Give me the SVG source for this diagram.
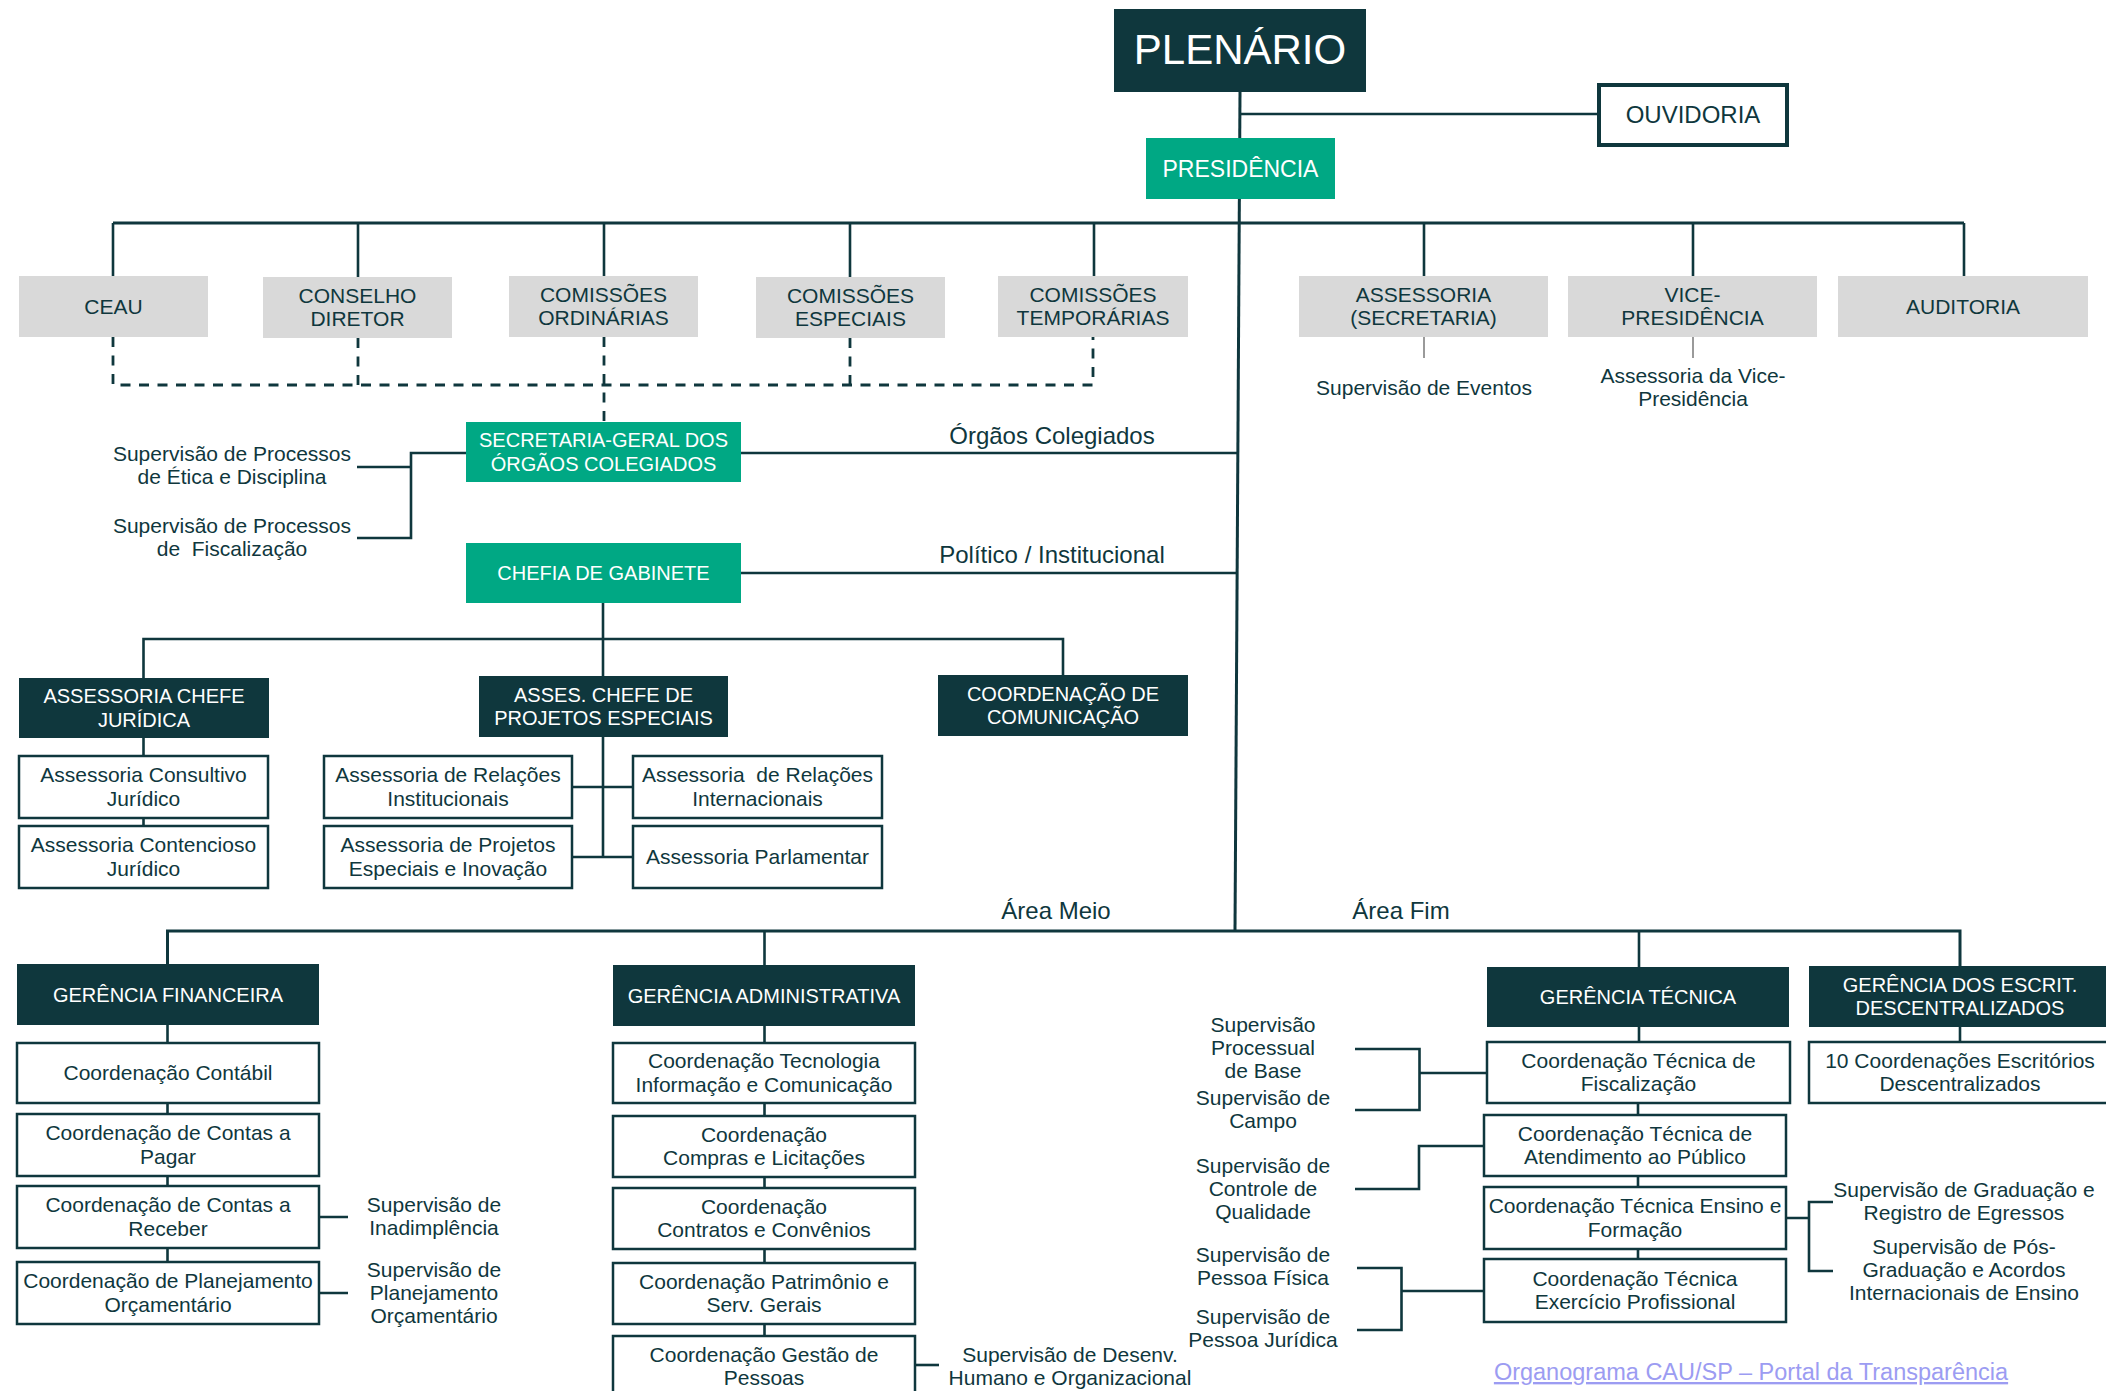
<svg xmlns="http://www.w3.org/2000/svg" width="2106" height="1391" viewBox="0 0 2106 1391">
<style>
.bg{fill:#ffffff}
.dark{fill:#0f373d}
.green{fill:#00a884}
.gray{fill:#d9d9d9}
.wbox{fill:#ffffff;stroke:#0f373d;stroke-width:2.5}
.obox{fill:#ffffff;stroke:#0f373d;stroke-width:4}
.t{font-family:"Liberation Sans",Arial,sans-serif;font-size:21px;fill:#0f373d;text-anchor:middle}
.h{font-size:20px}
.w{fill:#ffffff}
.lbl{font-size:24px}
.c{fill:none;stroke:#0f373d;stroke-width:2.6}
.cm{stroke-width:3}
.d{stroke-dasharray:10 8.5;stroke-width:2.8}
.g{stroke:#9a9a9a;stroke-width:2}
.link{font-size:23.5px;fill:#9c9cf2;text-decoration:underline}
</style>
<rect class="bg" x="0" y="0" width="2106" height="1391"/>

<g id="connectors">
  <path class="c cm" d="M1240 92 L1235 931"/>
  <path class="c" d="M1240 114 H1597"/>
  <path class="c cm" d="M113 223 H1964"/>
  <path class="c" d="M113 223 V276 M358 223 V277 M604 223 V276 M850 223 V277 M1094 223 V276 M1424 223 V276 M1693 223 V276 M1964 223 V276"/>
  <path class="c d" d="M113 337 V385 H1093 V337 M358 338 V385 M604 337 V422 M850 338 V385"/>
  <path class="c g" d="M1424 337 V358 M1693 337 V358"/>
  <path class="c" d="M466 453 H411 V538 H357 M411 467 H357"/>
  <path class="c" d="M741 453 H1238"/>
  <path class="c" d="M741 573 H1237"/>
  <path class="c" d="M603 603 V676"/>
  <path class="c" d="M143.5 678 V639 H1063 V675"/>
  <path class="c" d="M143.5 738 V826"/>
  <path class="c" d="M603 737 V857 M572 787 H633 M572 857 H633"/>
  <path class="c cm" d="M167.5 964 V931 H1960 V966"/>
  <path class="c" d="M764.5 931 V965 M1639 931 V967"/>
  <path class="c" d="M167.5 1025 V1262"/>
  <path class="c" d="M319 1217 H348 M319 1293 H348"/>
  <path class="c" d="M764.5 1026 V1336"/>
  <path class="c" d="M915 1365 H939"/>
  <path class="c" d="M1639 1027 V1042 M1638 1103 V1259"/>
  <path class="c" d="M1960 1027 V1042"/>
  <path class="c" d="M1355 1049 H1419.5 V1110 H1355 M1419.5 1073 H1487"/>
  <path class="c" d="M1355 1189 H1419 V1146 H1484"/>
  <path class="c" d="M1357 1268 H1401.5 V1330 H1357 M1401.5 1291 H1484"/>
  <path class="c" d="M1786 1218 H1809 M1833 1202 H1809 V1271 H1833"/>
</g>

<g id="n-plenario">
  <rect class="dark" x="1114" y="9" width="252" height="83"/>
  <text class="t w" x="1240" y="64" style="font-size:42px">PLENÁRIO</text>
</g>
<g id="n-ouvidoria">
  <rect class="obox" x="1599" y="85" width="188" height="60"/>
  <text class="t lbl" x="1693" y="123">OUVIDORIA</text>
</g>
<g id="n-presidencia">
  <rect class="green" x="1146" y="138" width="189" height="61"/>
  <text class="t w" x="1240.5" y="177" style="font-size:23px">PRESIDÊNCIA</text>
</g>

<g id="n-ceau">
  <rect class="gray" x="19" y="276" width="189" height="61"/>
  <text class="t" x="113.5" y="313.5">CEAU</text>
</g>
<g id="n-conselho">
  <rect class="gray" x="263" y="277" width="189" height="61"/>
  <text class="t" x="357.5" y="302.5">CONSELHO</text>
  <text class="t" x="357.5" y="326">DIRETOR</text>
</g>
<g id="n-com-ordinarias">
  <rect class="gray" x="509" y="276" width="189" height="61"/>
  <text class="t" x="603.5" y="301.75">COMISSÕES</text>
  <text class="t" x="603.5" y="325.25">ORDINÁRIAS</text>
</g>
<g id="n-com-especiais">
  <rect class="gray" x="756" y="277" width="189" height="61"/>
  <text class="t" x="850.5" y="302.5">COMISSÕES</text>
  <text class="t" x="850.5" y="326">ESPECIAIS</text>
</g>
<g id="n-com-temporarias">
  <rect class="gray" x="998" y="276" width="190" height="61"/>
  <text class="t" x="1093" y="301.75">COMISSÕES</text>
  <text class="t" x="1093" y="325.25">TEMPORÁRIAS</text>
</g>
<g id="n-assessoria-secretaria">
  <rect class="gray" x="1299" y="276" width="249" height="61"/>
  <text class="t" x="1423.5" y="301.75">ASSESSORIA</text>
  <text class="t" x="1423.5" y="325.25">(SECRETARIA)</text>
  <text class="t" x="1424" y="395">Supervisão de Eventos</text>
</g>
<g id="n-vice">
  <rect class="gray" x="1568" y="276" width="249" height="61"/>
  <text class="t" x="1692.5" y="301.75">VICE-</text>
  <text class="t" x="1692.5" y="325.25">PRESIDÊNCIA</text>
  <text class="t" x="1693" y="383">Assessoria da Vice-</text>
  <text class="t" x="1693" y="406">Presidência</text>
</g>
<g id="n-auditoria">
  <rect class="gray" x="1838" y="276" width="250" height="61"/>
  <text class="t" x="1963" y="313.5">AUDITORIA</text>
</g>

<g id="n-secretaria-geral">
  <rect class="green" x="466" y="422" width="275" height="60"/>
  <text class="t h w" x="603.5" y="447.25">SECRETARIA-GERAL DOS</text>
  <text class="t h w" x="603.5" y="470.75">ÓRGÃOS COLEGIADOS</text>
</g>
<g id="n-sup-etica">
  <text class="t" x="232" y="461">Supervisão de Processos</text>
  <text class="t" x="232" y="484">de Ética e Disciplina</text>
</g>
<g id="n-sup-fiscalizacao">
  <text class="t" x="232" y="533">Supervisão de Processos</text>
  <text class="t" x="232" y="556" xml:space="preserve">de  Fiscalização</text>
</g>
<g id="labels">
  <text class="t lbl" x="1052" y="444">Órgãos Colegiados</text>
  <text class="t lbl" x="1052" y="563">Político / Institucional</text>
  <text class="t lbl" x="1056" y="919">Área Meio</text>
  <text class="t lbl" x="1401" y="919">Área Fim</text>
</g>

<g id="n-chefia">
  <rect class="green" x="466" y="543" width="275" height="60"/>
  <text class="t h w" x="603.5" y="580">CHEFIA DE GABINETE</text>
</g>
<g id="n-juridica">
  <rect class="dark" x="19" y="678" width="250" height="60"/>
  <text class="t h w" x="144" y="703.25">ASSESSORIA CHEFE</text>
  <text class="t h w" x="144" y="726.75">JURÍDICA</text>
</g>
<g id="n-projetos">
  <rect class="dark" x="479" y="676" width="249" height="61"/>
  <text class="t h w" x="603.5" y="701.75">ASSES. CHEFE DE</text>
  <text class="t h w" x="603.5" y="725.25">PROJETOS ESPECIAIS</text>
</g>
<g id="n-comunicacao">
  <rect class="dark" x="938" y="675" width="250" height="61"/>
  <text class="t h w" x="1063" y="700.75">COORDENAÇÃO DE</text>
  <text class="t h w" x="1063" y="724.25">COMUNICAÇÃO</text>
</g>
<g id="n-consultivo">
  <rect class="wbox" x="19" y="756" width="249" height="62"/>
  <text class="t" x="143.5" y="782.25">Assessoria Consultivo</text>
  <text class="t" x="143.5" y="805.75">Jurídico</text>
</g>
<g id="n-contencioso">
  <rect class="wbox" x="19" y="826" width="249" height="62"/>
  <text class="t" x="143.5" y="852.25">Assessoria Contencioso</text>
  <text class="t" x="143.5" y="875.75">Jurídico</text>
</g>
<g id="n-rel-institucionais">
  <rect class="wbox" x="324" y="756" width="248" height="62"/>
  <text class="t" x="448" y="782.25">Assessoria de Relações</text>
  <text class="t" x="448" y="805.75">Institucionais</text>
</g>
<g id="n-proj-especiais">
  <rect class="wbox" x="324" y="826" width="248" height="62"/>
  <text class="t" x="448" y="852.25">Assessoria de Projetos</text>
  <text class="t" x="448" y="875.75">Especiais e Inovação</text>
</g>
<g id="n-rel-internacionais">
  <rect class="wbox" x="633" y="756" width="249" height="62"/>
  <text class="t" x="757.5" y="782.25" xml:space="preserve">Assessoria  de Relações</text>
  <text class="t" x="757.5" y="805.75">Internacionais</text>
</g>
<g id="n-parlamentar">
  <rect class="wbox" x="633" y="826" width="249" height="62"/>
  <text class="t" x="757.5" y="864">Assessoria Parlamentar</text>
</g>

<g id="n-ger-financeira">
  <rect class="dark" x="17" y="964" width="302" height="61"/>
  <text class="t h w" x="168" y="1001.5">GERÊNCIA FINANCEIRA</text>
</g>
<g id="n-contabil">
  <rect class="wbox" x="17" y="1043" width="302" height="60"/>
  <text class="t" x="168" y="1080">Coordenação Contábil</text>
</g>
<g id="n-pagar">
  <rect class="wbox" x="17" y="1114" width="302" height="62"/>
  <text class="t" x="168" y="1140.25">Coordenação de Contas a</text>
  <text class="t" x="168" y="1163.75">Pagar</text>
</g>
<g id="n-receber">
  <rect class="wbox" x="17" y="1186" width="302" height="62"/>
  <text class="t" x="168" y="1212.25">Coordenação de Contas a</text>
  <text class="t" x="168" y="1235.75">Receber</text>
</g>
<g id="n-planejamento">
  <rect class="wbox" x="17" y="1262" width="302" height="62"/>
  <text class="t" x="168" y="1288.25">Coordenação de Planejamento</text>
  <text class="t" x="168" y="1311.75">Orçamentário</text>
</g>
<g id="n-sup-inadimplencia">
  <text class="t" x="434" y="1212">Supervisão de</text>
  <text class="t" x="434" y="1235">Inadimplência</text>
</g>
<g id="n-sup-planejamento">
  <text class="t" x="434" y="1277">Supervisão de</text>
  <text class="t" x="434" y="1300">Planejamento</text>
  <text class="t" x="434" y="1323">Orçamentário</text>
</g>

<g id="n-ger-administrativa">
  <rect class="dark" x="613" y="965" width="302" height="61"/>
  <text class="t h w" x="764" y="1002.5">GERÊNCIA ADMINISTRATIVA</text>
</g>
<g id="n-tecnologia">
  <rect class="wbox" x="613" y="1043" width="302" height="60"/>
  <text class="t" x="764" y="1068.25">Coordenação Tecnologia</text>
  <text class="t" x="764" y="1091.75">Informação e Comunicação</text>
</g>
<g id="n-compras">
  <rect class="wbox" x="613" y="1116" width="302" height="61"/>
  <text class="t" x="764" y="1141.75">Coordenação</text>
  <text class="t" x="764" y="1165.25">Compras e Licitações</text>
</g>
<g id="n-contratos">
  <rect class="wbox" x="613" y="1188" width="302" height="61"/>
  <text class="t" x="764" y="1213.75">Coordenação</text>
  <text class="t" x="764" y="1237.25">Contratos e Convênios</text>
</g>
<g id="n-patrimonio">
  <rect class="wbox" x="613" y="1263" width="302" height="61"/>
  <text class="t" x="764" y="1288.75">Coordenação Patrimônio e</text>
  <text class="t" x="764" y="1312.25">Serv. Gerais</text>
</g>
<g id="n-pessoas">
  <rect class="wbox" x="613" y="1336" width="302" height="70"/>
  <text class="t" x="764" y="1362">Coordenação Gestão de</text>
  <text class="t" x="764" y="1385">Pessoas</text>
</g>
<g id="n-sup-desenv">
  <text class="t" x="1070" y="1362">Supervisão de Desenv.</text>
  <text class="t" x="1070" y="1385">Humano e Organizacional</text>
</g>

<g id="n-ger-tecnica">
  <rect class="dark" x="1487" y="967" width="302" height="60"/>
  <text class="t h w" x="1638" y="1004">GERÊNCIA TÉCNICA</text>
</g>
<g id="n-ger-escritorios">
  <rect class="dark" x="1809" y="966" width="310" height="61"/>
  <text class="t h w" x="1960" y="991.75">GERÊNCIA DOS ESCRIT.</text>
  <text class="t h w" x="1960" y="1015.25">DESCENTRALIZADOS</text>
</g>
<g id="n-10-coord">
  <rect class="wbox" x="1809" y="1042" width="310" height="61"/>
  <text class="t" x="1960" y="1067.75">10 Coordenações Escritórios</text>
  <text class="t" x="1960" y="1091.25">Descentralizados</text>
</g>
<g id="n-fiscalizacao">
  <rect class="wbox" x="1487" y="1042" width="303" height="61"/>
  <text class="t" x="1638.5" y="1067.75">Coordenação Técnica de</text>
  <text class="t" x="1638.5" y="1091.25">Fiscalização</text>
</g>
<g id="n-atendimento">
  <rect class="wbox" x="1484" y="1115" width="302" height="61"/>
  <text class="t" x="1635" y="1140.75">Coordenação Técnica de</text>
  <text class="t" x="1635" y="1164.25">Atendimento ao Público</text>
</g>
<g id="n-ensino">
  <rect class="wbox" x="1484" y="1187" width="302" height="62"/>
  <text class="t" x="1635" y="1213.25">Coordenação Técnica Ensino e</text>
  <text class="t" x="1635" y="1236.75">Formação</text>
</g>
<g id="n-exercicio">
  <rect class="wbox" x="1484" y="1259" width="302" height="63"/>
  <text class="t" x="1635" y="1285.75">Coordenação Técnica</text>
  <text class="t" x="1635" y="1309.25">Exercício Profissional</text>
</g>
<g id="n-sup-processual">
  <text class="t" x="1263" y="1032">Supervisão</text>
  <text class="t" x="1263" y="1055">Processual</text>
  <text class="t" x="1263" y="1078">de Base</text>
</g>
<g id="n-sup-campo">
  <text class="t" x="1263" y="1105">Supervisão de</text>
  <text class="t" x="1263" y="1128">Campo</text>
</g>
<g id="n-sup-qualidade">
  <text class="t" x="1263" y="1173">Supervisão de</text>
  <text class="t" x="1263" y="1196">Controle de</text>
  <text class="t" x="1263" y="1219">Qualidade</text>
</g>
<g id="n-sup-pf">
  <text class="t" x="1263" y="1262">Supervisão de</text>
  <text class="t" x="1263" y="1285">Pessoa Física</text>
</g>
<g id="n-sup-pj">
  <text class="t" x="1263" y="1324">Supervisão de</text>
  <text class="t" x="1263" y="1347">Pessoa Jurídica</text>
</g>
<g id="n-sup-graduacao">
  <text class="t" x="1964" y="1197">Supervisão de Graduação e</text>
  <text class="t" x="1964" y="1220">Registro de Egressos</text>
</g>
<g id="n-sup-pos">
  <text class="t" x="1964" y="1254">Supervisão de Pós-</text>
  <text class="t" x="1964" y="1277">Graduação e Acordos</text>
  <text class="t" x="1964" y="1300">Internacionais de Ensino</text>
</g>

<g id="link">
  <text class="t link" x="1751" y="1380">Organograma CAU/SP – Portal da Transparência</text>
</g>
</svg>
